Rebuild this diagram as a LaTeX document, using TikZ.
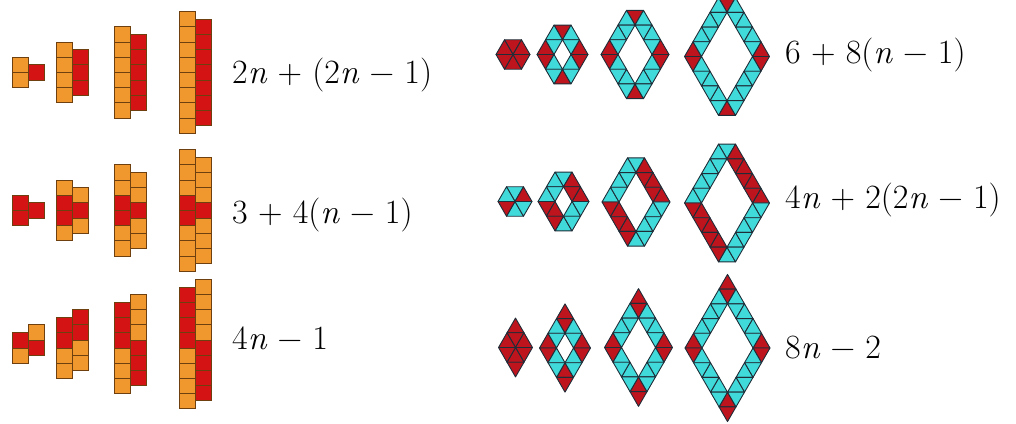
\documentclass[tikz,border=0pt]{standalone}
\definecolor{sqor}{HTML}{F0982E}
\definecolor{sqrd}{HTML}{D41414}
\definecolor{sqbd}{HTML}{6E4010}
\definecolor{tcyan}{HTML}{40DADA}
\definecolor{tred}{HTML}{BE141E}
\definecolor{tbd}{HTML}{1E2D38}
\tikzset{
  sqst/.style={draw=sqbd,line width=0.9pt},
  trist/.style={draw=tbd,line width=0.9pt,line join=round},
  lbl/.style={anchor=west,inner sep=0pt,font=\fontsize{34}{40}\selectfont}
}
\newcommand\vn{\textit{n}}
\newcommand\sqcol[3]{% x-left, top (tikz y), colours from top
  \foreach \cc [count=\i from 0] in {#3}{
    \filldraw[sqst,fill=\cc] (#1,{#2-\i*15.2}) rectangle ({#1+16},{#2-(\i+1)*15.2});
  }}
\newcommand\utri[3]{\filldraw[trist,fill=#3] ({#1-8.5},{#2}) -- ({#1+8.5},{#2}) -- ({#1},{#2+14.72}) -- cycle;}
\newcommand\dtri[3]{\filldraw[trist,fill=#3] ({#1-8.5},{#2}) -- ({#1+8.5},{#2}) -- ({#1},{#2-14.72}) -- cycle;}
\newcommand\fulld[3]{\utri{#1}{#2}{#3}\dtri{#1}{#2}{#3}}
% ring with flat top/bottom (rows 1 and 2)
\newcommand\ringA[3]{%
  \pgfmathsetmacro\hx{#3*8.5}\pgfmathsetmacro\hy{#3*14.72}
  \dtri{#1}{#2+\hy}{cT}
  \utri{#1}{#2-\hy}{cB}
  \utri{#1-\hx}{#2}{cLU}\dtri{#1-\hx}{#2}{cLD}
  \utri{#1+\hx}{#2}{cRU}\dtri{#1+\hx}{#2}{cRD}
  \ifnum#3>1
    \pgfmathtruncatemacro\nm{#3-1}
    \foreach \k in {1,...,\nm}{
      \pgfmathsetmacro\dx{\k*8.5}\pgfmathsetmacro\dy{(#3-\k)*14.72}
      \fulld{#1-\dx}{#2+\dy}{cUL}
      \fulld{#1+\dx}{#2+\dy}{cUR}
      \fulld{#1-\dx}{#2-\dy}{cLL}
      \fulld{#1+\dx}{#2-\dy}{cLR}
    }
  \fi}
% rhombus ring (row 3): #4 = red cells per side, from each corner clockwise
\newcommand\ringB[4]{%
  \pgfmathtruncatemacro\nm{#3-1}
  \foreach \k in {0,...,\nm}{
    \pgfmathsetmacro\ax{\k*8.5}\pgfmathsetmacro\bx{(#3-\k)*8.5}
    \pgfmathsetmacro\ay{\k*14.72}\pgfmathsetmacro\by{(#3-\k)*14.72}
    \ifnum\k<#4 \def\cc{tred}\else\def\cc{tcyan}\fi
    \fulld{#1+\ax}{#2+\by}{\cc}
    \fulld{#1+\bx}{#2-\ay}{\cc}
    \fulld{#1-\ax}{#2-\by}{\cc}
    \fulld{#1-\bx}{#2+\ay}{\cc}
  }}
\begin{document}
\begin{tikzpicture}[x=1pt,y=1pt]
\useasboundingbox (0,0) rectangle (1016,423);
% ---------- left: square columns ----------
% row 1 : 2n + (2n-1)
\sqcol{12}{365.7}{sqor,sqor}
\sqcol{28}{358.1}{sqrd}
\sqcol{56.5}{380.9}{sqor,sqor,sqor,sqor}
\sqcol{72.5}{373.3}{sqrd,sqrd,sqrd}
\sqcol{114.5}{396.1}{sqor,sqor,sqor,sqor,sqor,sqor}
\sqcol{130.5}{388.5}{sqrd,sqrd,sqrd,sqrd,sqrd}
\sqcol{179.5}{411.3}{sqor,sqor,sqor,sqor,sqor,sqor,sqor,sqor}
\sqcol{195.5}{403.7}{sqrd,sqrd,sqrd,sqrd,sqrd,sqrd,sqrd}
% row 2 : 3 + 4(n-1)
\sqcol{12}{227.7}{sqrd,sqrd}
\sqcol{28}{220.1}{sqrd}
\sqcol{56.5}{242.9}{sqor,sqrd,sqrd,sqor}
\sqcol{72.5}{235.3}{sqor,sqrd,sqor}
\sqcol{114.5}{258.1}{sqor,sqor,sqrd,sqrd,sqor,sqor}
\sqcol{130.5}{250.5}{sqor,sqor,sqrd,sqor,sqor}
\sqcol{179.5}{273.3}{sqor,sqor,sqor,sqrd,sqrd,sqor,sqor,sqor}
\sqcol{195.5}{265.7}{sqor,sqor,sqor,sqrd,sqor,sqor,sqor}
% row 3 : 4n - 1
\sqcol{12}{90.2}{sqrd,sqor}
\sqcol{28}{98.2}{sqor,sqrd}
\sqcol{56.5}{105.4}{sqrd,sqrd,sqor,sqor}
\sqcol{72.5}{113.4}{sqrd,sqrd,sqor,sqor}
\sqcol{114.5}{120.6}{sqrd,sqrd,sqrd,sqor,sqor,sqor}
\sqcol{130.5}{128.6}{sqor,sqor,sqor,sqrd,sqrd,sqrd}
\sqcol{179.5}{135.8}{sqrd,sqrd,sqrd,sqrd,sqor,sqor,sqor,sqor}
\sqcol{195.5}{143.8}{sqor,sqor,sqor,sqor,sqrd,sqrd,sqrd,sqrd}
% ---------- right: triangle figures ----------
% row 1 : corners red, arms cyan
\begin{scope}
\colorlet{cT}{tred}\colorlet{cB}{tred}\colorlet{cLU}{tred}\colorlet{cLD}{tred}
\colorlet{cRU}{tred}\colorlet{cRD}{tred}
\colorlet{cUL}{tcyan}\colorlet{cUR}{tcyan}\colorlet{cLL}{tcyan}\colorlet{cLR}{tcyan}
\ringA{513}{368.5}{1}
\ringA{562.5}{368.5}{2}
\ringA{635}{368.5}{3}
\ringA{727}{366.5}{4}
\end{scope}
% row 2 : two cyan sides, two red sides
\begin{scope}
\colorlet{cT}{tcyan}\colorlet{cB}{tcyan}\colorlet{cLU}{tcyan}\colorlet{cLD}{tred}
\colorlet{cRU}{tred}\colorlet{cRD}{tcyan}
\colorlet{cUL}{tcyan}\colorlet{cUR}{tred}\colorlet{cLL}{tred}\colorlet{cLR}{tcyan}
\ringA{515}{221.5}{1}
\ringA{563.5}{221.5}{2}
\ringA{636}{221}{3}
\ringA{727}{220}{4}
\end{scope}
% row 3 : rhombus rings
\ringB{515.5}{75.5}{1}{1}
\ringB{565}{75}{2}{1}
\ringB{638.5}{75.5}{3}{1}
\ringB{727.5}{75}{4}{1}
% ---------- labels ----------
\node[lbl] (l1) at (232,348) {2\vn{} + (2\vn{} − 1)};
\node[lbl] (l2) at (232,208) {3 + 4(\vn{} − 1)};
\node[lbl] (l3) at (232,85) {4\vn{} − 1};
\node[lbl] (r1) at (785,368) {6 + 8(\vn{} − 1)};
\node[lbl] (r2) at (785,223) {4\vn{} + 2(2\vn{} − 1)};
\node[lbl] (r3) at (785,75) {8\vn{} − 2};
\end{tikzpicture}
\end{document}
